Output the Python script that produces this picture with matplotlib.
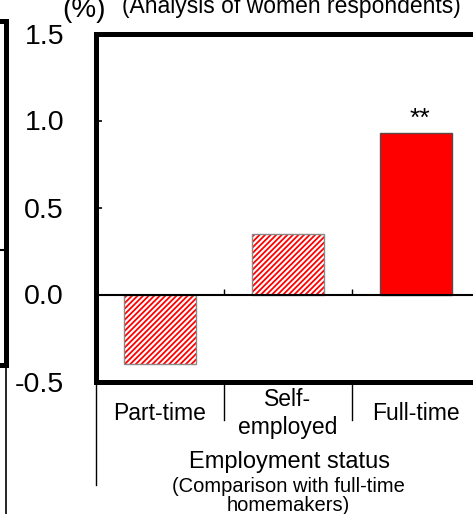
import matplotlib
matplotlib.use("Agg")
import matplotlib.pyplot as plt
import numpy as np

plt.rcParams["font.family"] = ["Liberation Sans", "DejaVu Sans"]
plt.rcParams["hatch.linewidth"] = 1.3

# Data: difference in rate (%) by employment status, women respondents
categories = ["Part-time", "Self-\nemployed", "Full-time"]
values = [-0.40, 0.35, 0.93]
significant = ["", "", "**"]
hatched = [True, True, False]
y_ticks = [-0.5, 0.0, 0.5, 1.0, 1.5]
y_tick_labels = ["-0.5", "0.0", "0.5", "1.0", "1.5"]

W, H = 473, 514
fig = plt.figure(figsize=(W / 100, H / 100), dpi=100)

RED = "#ff0000"
SPINE_W = 3.6

# Neighbouring panel (only its right edge is in view)
axl = fig.add_axes([-0.5, 1 - 364.5 / H, 0.5 + 5.7 / W, (364.5 - 21) / H])
axl.set_xlim(0, 1)
axl.set_ylim(-1, 2)
axl.axhline(0, color="black", lw=1.5)
for side in ["right", "top", "bottom"]:
    axl.spines[side].set_linewidth(SPINE_W)
axl.spines["left"].set_visible(False)
axl.set_xticks([])
axl.set_yticks([])
axl.plot([1, 1], [0, -0.5], color="black", lw=1.2,
         transform=axl.get_xaxis_transform(), clip_on=False)

# Main panel
ax = fig.add_axes([96 / W, 1 - 381.5 / H, 384 / W, 348 / H])
x = np.arange(len(categories))
ax.set_xlim(-0.5, len(categories) - 0.5)
ax.set_ylim(-0.5, 1.5)

bar_w = 0.56
for xi, v, h in zip(x, values, hatched):
    if h:
        ax.bar(xi, v, width=bar_w, color="white", edgecolor=RED,
               hatch="//////", linewidth=0, zorder=2)
        ax.bar(xi, v, width=bar_w, fill=False, edgecolor="#8a8a8a",
               linewidth=1.0, zorder=3)
    else:
        ax.bar(xi, v, width=bar_w, color=RED, edgecolor="#5c4a4a",
               linewidth=1.0, zorder=3)

for xi, v, s in zip(x, values, significant):
    if s:
        ax.annotate(s, (xi, v), xytext=(3, 5), textcoords="offset points",
                    ha="center", va="baseline", fontsize=19)

# Zero line with category ticks
ax.axhline(0, color="black", lw=1.5, zorder=4)
bounds = np.arange(len(categories) + 1) - 0.5
ax.vlines(bounds, 0, 0.03, color="black", lw=1.0, zorder=4)

# Category divider lines below the axis
trans = ax.get_xaxis_transform()
for b in bounds:
    depth = -0.297 if b in (bounds[0], bounds[-1]) else -0.111
    ax.plot([b, b], [0, depth], color="black", lw=1.0,
            transform=trans, clip_on=False)

for side in ax.spines:
    ax.spines[side].set_linewidth(SPINE_W)

ax.set_yticks(y_ticks)
ax.set_yticklabels(y_tick_labels, fontsize=20.5)
ax.tick_params(axis="y", direction="in", length=4.5, width=1.2, pad=23)

ax.set_xticks(x)
ax.set_xticklabels(categories, fontsize=16.5, linespacing=1.25)
ax.tick_params(axis="x", length=0, pad=23)
for lbl in ax.get_xticklabels():
    lbl.set_verticalalignment("center")

# Annotations
fig.text(84 / W, 1 - 17 / H, "(%)", ha="center", va="baseline", fontsize=20)
fig.text(122 / W, 1 - 13.5 / H, "(Analysis of women respondents)",
         ha="left", va="baseline", fontsize=16.5)
fig.text(289 / W, 1 - 468 / H, "Employment status",
         ha="center", va="baseline", fontsize=17)
fig.text(288 / W, 1 - 496 / H, "(Comparison with full-time\nhomemakers)",
         ha="center", va="center", fontsize=14.5, linespacing=0.98)

fig.savefig("out.png", dpi=100)
